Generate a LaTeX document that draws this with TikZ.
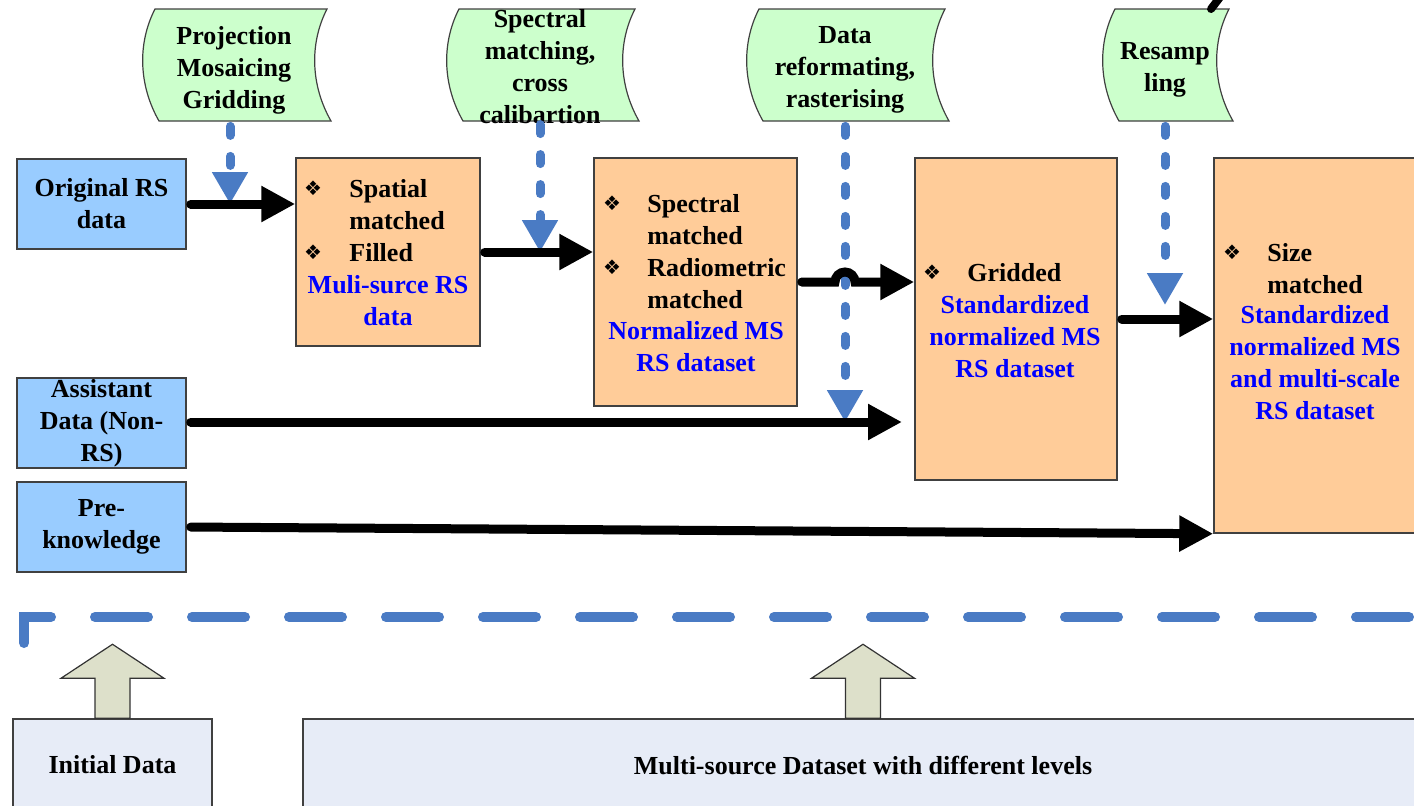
\documentclass[tikz,border=0pt]{standalone}
\usepackage{fontspec}
\setmainfont{Liberation Serif}
\newfontfamily\symfont{DejaVu Sans}
\usepackage{xcolor}
\usepackage{tikz}
\usetikzlibrary{arrows.meta}

\definecolor{tapegreen}{HTML}{CCFFCC}
\definecolor{rsblue}{HTML}{99CCFF}
\definecolor{boxorange}{HTML}{FFCC99}
\definecolor{lineblue}{HTML}{4A7BC4}
\definecolor{edgegray}{HTML}{404040}
\definecolor{olivefill}{HTML}{DDE0CA}
\definecolor{palebox}{HTML}{E7ECF7}

\newcommand{\diabullet}{{\symfont\fontsize{10}{10}\selectfont ❖}}

\begin{document}
\begin{tikzpicture}[x=0.5pt, y=-0.5pt,
  txt/.style={font=\fontsize{13}{16}\selectfont\bfseries, align=center, inner sep=0pt},
  bluetxt/.style={txt, text=blue},
  leftcol/.style={txt, align=left, anchor=west},
  rsbox/.style={txt, draw=edgegray, line width=0.75pt, fill=rsblue, minimum width=84.5pt, minimum height=45pt},
  stepbox/.style={draw=edgegray, line width=0.75pt, fill=boxorange, inner sep=0pt},
  tapeshape/.style={draw=edgegray, line width=0.6pt, fill=tapegreen},
  bul/.style={inner sep=0pt},
  flow/.style={line width=4.5pt, line cap=round, shorten <=2pt, -{Triangle[length=17pt, width=17pt]}},
  feed/.style={lineblue, line width=4.5pt, line cap=round, dash pattern=on 4.5pt off 10.5pt, -{Triangle[length=16pt, width=17pt]}},
  divider/.style={lineblue, line width=5pt, line cap=round, dash pattern=on 26.5pt off 22pt},
  levelbox/.style={txt, draw=edgegray, line width=0.75pt, fill=palebox},
  uparrow/.style={draw=black!80, line width=0.6pt, fill=olivefill}]
  \useasboundingbox (0,0) rectangle (1414,805);

  % processing steps (tapes)
  \foreach \n/\cx/\ty/\w/\txt in {t1/234/70/86/{Projection\\Mosaicing\\Gridding}, t2/540/67/88/{Spectral\\matching,\\cross\\calibartion}, t3/845/70/93/{Data\\reformating,\\rasterising}, t4/1165/70/57/{Resamp\\ling}}
  {
    \filldraw[tapeshape] ({\cx+7-\w},9) .. controls ({\cx+8-\w-19},44) and ({\cx+10-\w-19},86) .. ({\cx+11-\w},121) -- ({\cx+11+\w},121) .. controls ({\cx+10+\w-19},86) and ({\cx+8+\w-19},44) .. ({\cx+7+\w},9) -- cycle;
    \node[txt, minimum height=56pt] (\n) at (\cx,\ty) {\txt};
  }

  % input data
  \node[rsbox] (orig) at (101.5,204) {Original RS\\data};
  \node[rsbox] (assist) at (101.5,423) {Assistant\\Data (Non-\\RS)};
  \node[rsbox] (pre) at (101.5,527) {Pre-\\knowledge};

  % datasets
  \node[stepbox, minimum width=92pt, minimum height=94pt] (b1) at (388,252) {};
  \node[stepbox, minimum width=101.5pt, minimum height=124pt] (b2) at (695.5,282) {};
  \node[stepbox, minimum width=101pt, minimum height=161pt] (b3) at (1016,319) {};
  \node[stepbox, minimum width=113pt, minimum height=187.5pt] (b4) at (1327,345.5) {};

  \node[bul] (s1) at (313,188) {\diabullet};
  \node[bul] (s2) at (313,252) {\diabullet};
  \node[leftcol] (b1t) at (349,221) {Spatial\\matched\\Filled};
  \node[bluetxt] (b1d) at (388,301) {Muli-surce RS\\data};

  \node[bul] (s3) at (612,203) {\diabullet};
  \node[bul] (s4) at (612,267) {\diabullet};
  \node[leftcol] (b2t) at (647,252) {Spectral\\matched\\Radiometric\\matched};
  \node[bluetxt] (b2d) at (696,347) {Normalized MS\\RS dataset};

  \node[bul] (s5) at (932,272) {\diabullet};
  \node[leftcol] (b3t) at (967,273) {Gridded};
  \node[bluetxt] (b3d) at (1015,337) {Standardized\\normalized MS\\RS dataset};

  \node[bul] (s6) at (1232,252) {\diabullet};
  \node[leftcol] (b4t) at (1267,269) {Size\\matched};
  \node[bluetxt] (b4d) at (1315,363) {Standardized\\normalized MS\\and multi-scale\\RS dataset};

  % levels
  \node[levelbox, minimum width=99.5pt, minimum height=46pt] (init) at (112.5,765) {Initial Data};
  \node[levelbox, minimum width=560pt, minimum height=46pt] (multi) at (863,765) {Multi-source Dataset with different levels};

  \coordinate (assistend) at (902,422);

  % step arrows
  \draw[feed] ([xshift=-2pt]t1.south) -- ([xshift=-2pt]t1.south |- orig.east);
  \draw[feed] (t2.south) -- (t2.south |- b1.east);
  \draw[feed] (t3.south) -- (t3.south |- assistend);
  \draw[feed] (t4.south) -- ([yshift=7pt]t4.south |- b3.east);

  % data flow
  \draw[flow] (orig.east) -- (orig.east -| b1.west);
  \draw[flow] (b1.east) -- (b1.east -| b2.west);
  \draw[flow] (b2.east) -- ([xshift=-5pt]b2.east -| t3.south) arc[start angle=180, end angle=0, radius=5pt] -- (b2.east -| b3.west);
  \draw[flow] (b3.east) -- (b3.east -| b4.west);
  \draw[flow] (assist.east |- assistend) -- (assistend);
  \draw[flow] (pre.east) -- (b4.south west);

  \draw[line width=4pt, line cap=round] (1211,9) -- (1224,-8);

  % level arrows and divider
  \filldraw[uparrow] ([xshift=-8.75pt]init.north) -- ++(0,-40) -- ++(-34,0) -- ++(51.5,-34) -- ++(51.5,34) -- ++(-34,0) -- ++(0,40) -- cycle;
  \filldraw[uparrow] ([xshift=-8.75pt]multi.north) -- ++(0,-40) -- ++(-34,0) -- ++(51.5,-34) -- ++(51.5,34) -- ++(-34,0) -- ++(0,40) -- cycle;
  \draw[divider] (24,643) -- (24,617) -- (1430,617);
\end{tikzpicture}
\end{document}
